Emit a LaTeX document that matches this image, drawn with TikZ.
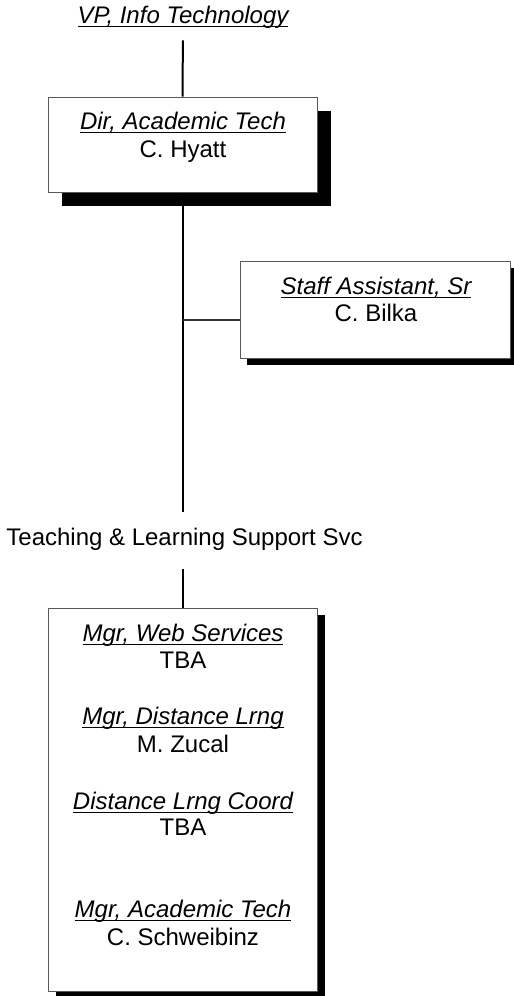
\documentclass[tikz,border=0pt]{standalone}
\usepackage{fontspec}
\setmainfont{Liberation Sans}
\usetikzlibrary{shadows,positioning}
\newsavebox{\ttlbox}
\newcommand{\jobttl}[1]{\sbox\ttlbox{\itshape #1}\rlap{\usebox\ttlbox}\rule[-2pt]{\wd\ttlbox}{0.5pt}}

\begin{document}
\begin{tikzpicture}[x=0.5pt,y=-0.5pt,line cap=butt,
  every node/.style={font=\fontsize{12}{14}\selectfont,inner sep=0pt},
  txt/.style={anchor=base},
  box/.style={draw=black!65,line width=0.5pt,fill=white},
  conn/.style={line width=1pt},
  branch/.style={line width=0.6pt,draw=black!80}]
\useasboundingbox (0,0) rectangle (514,996);
% boxes
\node[box,minimum width=134.5pt,minimum height=47.5pt,
  drop shadow={shadow xshift=7pt,shadow yshift=-7pt,fill=black,opacity=1}] (dir) at (182.5,144.5) {};
\node[box,minimum width=135pt,minimum height=48.5pt,
  drop shadow={shadow xshift=3.5pt,shadow yshift=-3.5pt,fill=black,opacity=1}] (staff) at (375,309.5) {};
\node[box,minimum width=134.5pt,minimum height=191.5pt,
  drop shadow={shadow xshift=4pt,shadow yshift=-3.5pt,fill=black,opacity=1}] (tls) at (182.5,799.5) {};
% texts
\node[txt] (vp) at (183,23) {\jobttl{VP, Info Technology}};
\node[txt] (dirt) at (183,129) {\jobttl{Dir, Academic Tech}};
\node[txt] (dirn) at (183,157) {C. Hyatt};
\node[txt] (stafft) at (376,294) {\jobttl{Staff Assistant, Sr}};
\node[txt] (staffn) at (376,321) {C. Bilka};
\node[txt] (grp) at (184.5,545) {Teaching \& Learning Support Svc};
\node[txt] (web) at (183,641) {\jobttl{Mgr, Web Services}};
\node[txt] (webn) at (183,668) {TBA};
\node[txt] (dl) at (183,724) {\jobttl{Mgr, Distance Lrng}};
\node[txt] (dln) at (183,752) {M. Zucal};
\node[txt] (dlc) at (183,809) {\jobttl{Distance Lrng Coord}};
\node[txt] (dlcn) at (183,835) {TBA};
\node[txt] (mat) at (183,917) {\jobttl{Mgr, Academic Tech}};
\node[txt] (matn) at (183,945) {C. Schweibinz};
% lines
\coordinate (br) at (183,320);
\draw[conn,shorten <=6pt] (vp.south) -- (dir.north);
\draw[conn,shorten >=7.5pt] (dir.south) -- (grp.north -| dir.south);
\draw[branch] (br) -- (br -| staff.west);
\draw[conn,shorten <=9.5pt] (grp.south -| tls.north) -- (tls.north);
\end{tikzpicture}
\end{document}
